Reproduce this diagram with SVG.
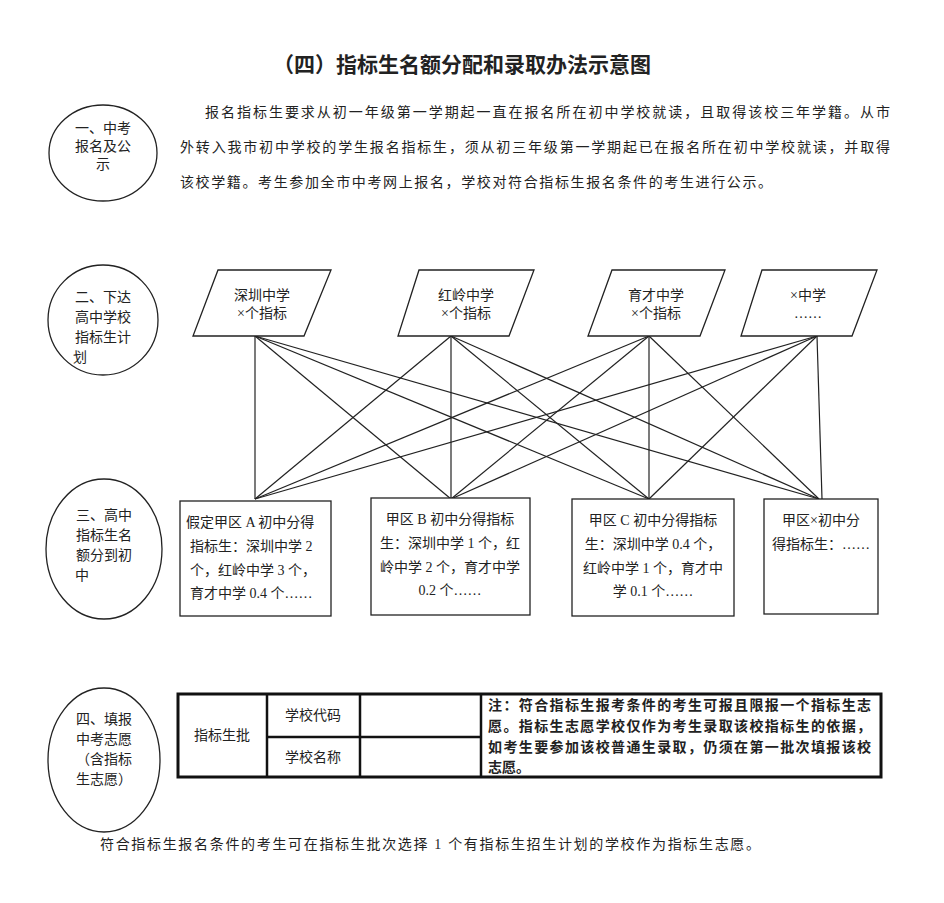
<svg xmlns="http://www.w3.org/2000/svg" width="944" height="903" viewBox="0 0 944 903">
<style>
text{font-family:"Liberation Serif","Noto Sans CJK SC",serif;font-size:14px;fill:#222}
.c{text-anchor:middle}
.s{fill:#fff;stroke:#222;stroke-width:1.3}
.l{stroke:#222;stroke-width:1.2}
.t{fill:none;stroke:#111;stroke-width:3}
.tt{stroke:#111;stroke-width:2.5}
</style>
<rect width="944" height="903" fill="#fff"/>
<text x="462" y="72" class="c" style="font-size:21px;font-weight:bold">（四）指标生名额分配和录取办法示意图</text>
<g id="p1">
<text x="205" y="117" textLength="685">报名指标生要求从初一年级第一学期起一直在报名所在初中学校就读，且取得该校三年学籍。从市</text>
<text x="180" y="152" textLength="710">外转入我市初中学校的学生报名指标生，须从初三年级第一学期起已在报名所在初中学校就读，并取得</text>
<text x="180" y="187" textLength="592">该校学籍。考生参加全市中考网上报名，学校对符合指标生报名条件的考生进行公示。</text>
</g>
<g id="circles">
<ellipse cx="103" cy="153" rx="54" ry="48" class="s"/>
<text x="103" y="133" class="c">一、中考</text><text x="103" y="151" class="c">报名及公</text><text x="103" y="169" class="c">示</text>
<ellipse cx="103" cy="320" rx="55" ry="55" class="s"/>
<text x="103" y="302" class="c">二、下达</text><text x="103" y="322" class="c">高中学校</text><text x="103" y="342" class="c">指标生计</text><text x="80" y="362" class="c">划</text>
<ellipse cx="104" cy="549" rx="58" ry="70" class="s"/>
<text x="104" y="520" class="c">三、高中</text><text x="104" y="540" class="c">指标生名</text><text x="104" y="560" class="c">额分到初</text><text x="82" y="580" class="c">中</text>
<ellipse cx="104" cy="760" rx="56" ry="72" class="s"/>
<text x="104" y="724" class="c">四、填报</text><text x="104" y="744" class="c">中考志愿</text><text x="104" y="764" class="c">（含指标</text><text x="104" y="784" class="c">生志愿）</text>
</g>
<g id="connectors">
<line x1="255" y1="336" x2="255" y2="499" class="l"/>
<line x1="255" y1="336" x2="451" y2="499" class="l"/>
<line x1="255" y1="336" x2="649" y2="499" class="l"/>
<line x1="255" y1="336" x2="819" y2="499" class="l"/>
<line x1="451" y1="336" x2="255" y2="499" class="l"/>
<line x1="451" y1="336" x2="451" y2="499" class="l"/>
<line x1="451" y1="336" x2="649" y2="499" class="l"/>
<line x1="451" y1="336" x2="819" y2="499" class="l"/>
<line x1="649" y1="336" x2="255" y2="499" class="l"/>
<line x1="649" y1="336" x2="451" y2="499" class="l"/>
<line x1="649" y1="336" x2="649" y2="499" class="l"/>
<line x1="649" y1="336" x2="819" y2="499" class="l"/>
<line x1="817" y1="336" x2="255" y2="499" class="l"/>
<line x1="817" y1="336" x2="451" y2="499" class="l"/>
<line x1="817" y1="336" x2="649" y2="499" class="l"/>
<line x1="817" y1="336" x2="822" y2="499" class="l"/>
</g>
<g id="sch1"><polygon points="218,270 331,270 304,336 193,336" class="s"/><text x="262" y="300" class="c">深圳中学</text><text x="262" y="318" class="c">×个指标</text></g>
<g id="sch2"><polygon points="419,270 534,270 509,336 398,336" class="s"/><text x="466" y="300" class="c">红岭中学</text><text x="466" y="318" class="c">×个指标</text></g>
<g id="sch3"><polygon points="612,270 725,270 700,336 588,336" class="s"/><text x="656" y="300" class="c">育才中学</text><text x="656" y="318" class="c">×个指标</text></g>
<g id="sch4"><polygon points="762,270 877,270 852,336 741,336" class="s"/><text x="808" y="300" class="c">×中学</text><text x="808" y="318" class="c">……</text></g>
<g id="boxA"><rect x="180" y="501" width="151" height="115" class="s"/>
<text x="186" y="527">假定甲区 A 初中分得</text><text x="190" y="551">指标生：深圳中学 2</text><text x="190" y="575">个，红岭中学 3 个，</text><text x="190" y="598">育才中学 0.4 个……</text></g>
<g id="boxB"><rect x="371" y="498" width="159" height="117" class="s"/>
<text x="450" y="524" class="c">甲区 B 初中分得指标</text><text x="450" y="548" class="c">生：深圳中学 1 个，红</text><text x="450" y="572" class="c">岭中学 2 个，育才中学</text><text x="450" y="595" class="c">0.2 个……</text></g>
<g id="boxC"><rect x="572" y="499" width="162" height="117" class="s"/>
<text x="653" y="525" class="c">甲区 C 初中分得指标</text><text x="653" y="549" class="c">生：深圳中学 0.4 个，</text><text x="653" y="573" class="c">红岭中学 1 个，育才中</text><text x="653" y="596" class="c">学 0.1 个……</text></g>
<g id="boxX"><rect x="764" y="499" width="114" height="115" class="s"/>
<text x="821" y="525" class="c">甲区×初中分</text><text x="821" y="549" class="c">得指标生：……</text></g>
<g id="table">
<rect x="178" y="694" width="703" height="83" class="t"/>
<line x1="267" y1="694" x2="267" y2="777" class="tt"/>
<line x1="360" y1="694" x2="360" y2="777" class="tt"/>
<line x1="481" y1="694" x2="481" y2="777" class="tt"/>
<line x1="267" y1="737" x2="481" y2="737" class="tt"/>
<text x="222" y="740" class="c">指标生批</text>
<text x="313" y="720" class="c">学校代码</text>
<text x="313" y="762" class="c">学校名称</text>
<g style="font-weight:bold;font-size:12.5px">
<text x="488" y="710" textLength="383">注：符合指标生报考条件的考生可报且限报一个指标生志</text>
<text x="488" y="731" textLength="383">愿。指标生志愿学校仅作为考生录取该校指标生的依据，</text>
<text x="488" y="752" textLength="383">如考生要参加该校普通生录取，仍须在第一批次填报该校</text>
<text x="488" y="772">志愿。</text>
</g>
</g>
<text x="100" y="849" textLength="660">符合指标生报名条件的考生可在指标生批次选择 1 个有指标生招生计划的学校作为指标生志愿。</text>
</svg>
